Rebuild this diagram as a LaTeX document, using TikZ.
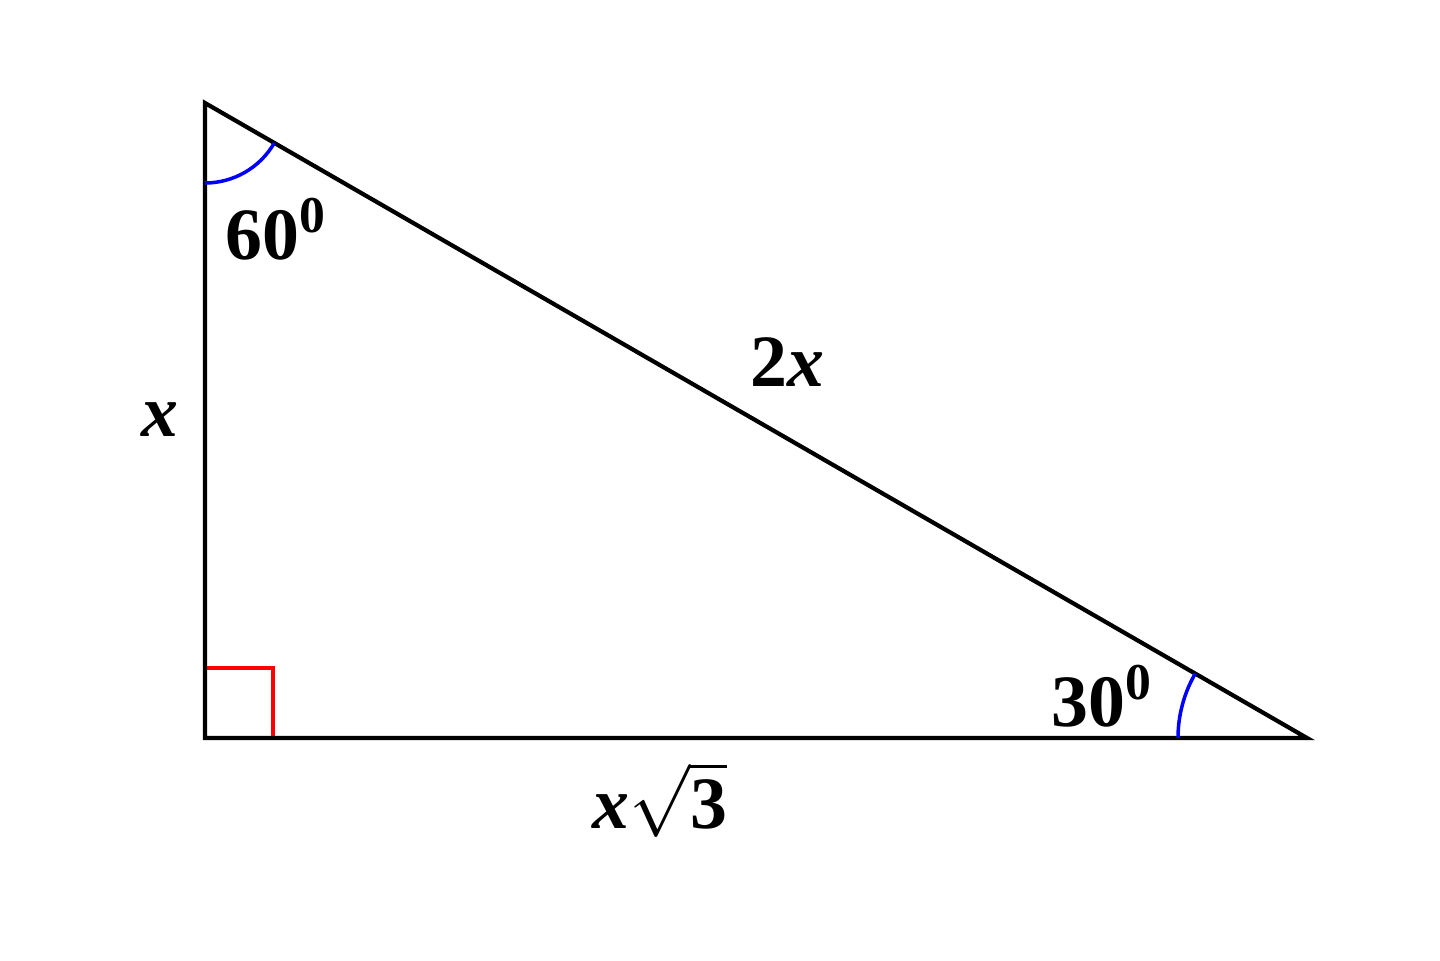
\documentclass[tikz,border=0pt]{standalone}
\usepackage{fontspec}
\setmainfont{Liberation Serif}
\usepackage{amsmath}
\usetikzlibrary{angles,quotes}
\tikzset{>=stealth}
\tikzset{lbl/.style={font=\fontsize{21}{25}\selectfont\bfseries}}

\begin{document}
\begin{tikzpicture}
        \useasboundingbox (0,0) rectangle (14.4,9.6);
        \coordinate (A) at (2.05,8.57);
        \coordinate (B) at (2.05,2.22);
        \coordinate (C) at (13.07,2.22);
        \coordinate (Sq) at (2.73,2.92);
        \draw[red, line width=1pt] (B |- Sq) -- (Sq) -- (Sq |- B);
        \draw[line width=1.2pt] (A) -- (B) -- (C) -- cycle;
        \pic[draw=blue, line width=1pt, angle radius=0.8cm] {angle = B--A--C};
        \pic[draw=blue, line width=1pt, angle radius=1.29cm] {angle = A--C--B};
        \node[lbl] (a60) at (2.76,7.31) {60\textsuperscript{0}};
        \node[lbl] (a30) at (11.02,2.64) {30\textsuperscript{0}};
        \node[lbl] (hyp) at (7.87,5.98) {2\textit{x}};
        \node[lbl] (lft) at (1.60,5.40) {\textit{x}};
        \node[lbl] (bot) at (6.60,1.60) {\textit{x}$\sqrt{\text{3}}$};
      \end{tikzpicture}
\end{document}
